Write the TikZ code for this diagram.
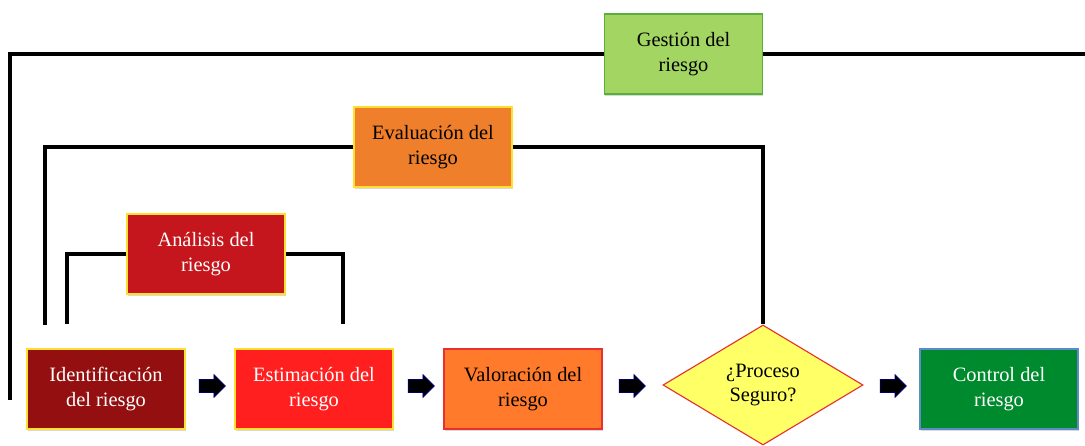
\documentclass[tikz,border=0pt]{standalone}
\usepackage{fontspec}
\setmainfont{Liberation Serif}
\usepackage{tikz}
\usetikzlibrary{positioning, shapes.geometric, shapes.arrows, arrows.meta, shadows}
\usepackage{xcolor}

\definecolor{gestfill}{HTML}{A3D563}
\definecolor{gestdraw}{HTML}{5BAE3A}
\definecolor{evalfill}{HTML}{F07F2C}
\definecolor{anafill}{HTML}{C4161C}
\definecolor{identfill}{HTML}{941010}
\definecolor{estfill}{HTML}{FF1F1F}
\definecolor{valfill}{HTML}{FF7A2A}
\definecolor{diamfill}{HTML}{FFFF66}
\definecolor{ctrlfill}{HTML}{008A2E}
\definecolor{ctrldraw}{HTML}{5B8CC8}
\definecolor{yelline}{HTML}{FFE030}
\definecolor{redline}{HTML}{E83030}

\begin{document}
\begin{tikzpicture}[
    x=0.025cm, y=-0.025cm,
    box/.style={rectangle, draw=yelline, line width=0.8pt, minimum width=3.95cm, minimum height=2.0cm,
        align=center, inner sep=2pt, font=\fontsize{14.5}{17.5}\selectfont,
        drop shadow={shadow xshift=0.5pt, shadow yshift=-1.5pt, opacity=0.3}},
    decision/.style={diamond, draw=redline, fill=diamfill, line width=0.8pt, minimum width=5cm, minimum height=3cm,
        aspect=1.667, inner sep=0pt, align=center, font=\fontsize{14.5}{17.5}\selectfont},
    flecha/.style={single arrow, fill=black, draw=blue!45!black, line width=0.6pt, minimum height=0.65cm,
        inner sep=0.15cm, single arrow head extend=0.12cm},
    bracket/.style={line width=2.6pt, black}
]
    \useasboundingbox (0,0) rectangle (1085,446);

    % Bottom row
    \node[box, fill=identfill, text=white] (ident) at (106,389) {Identificación\\del riesgo};
    \node[box, fill=estfill, text=white] (estim) at (314,389) {Estimación del\\riesgo};
    \node[box, fill=valfill, draw=redline] (valor) at (523,389) {Valoración del\\riesgo};
    \node[decision] (seguro) at (763,385) {¿Proceso\\Seguro?};
    \node[box, fill=ctrlfill, draw=ctrldraw, text=white] (control) at (999,389) {Control del\\riesgo};

    % Block arrows between steps
    \node[flecha] (f1) at (209,386) {};
    \node[flecha] (f2) at (418,386) {};
    \node[flecha] (f3) at (629,386) {};
    \node[flecha] (f4) at (890,386) {};

    % Group labels
    \node[box, fill=gestfill, draw=gestdraw] (gest) at (683.5,54) {Gestión del\\riesgo};
    \node[box, fill=evalfill] (eval) at (433,147) {Evaluación del\\riesgo};
    \node[box, fill=anafill, text=white] (anal) at (206,254) {Análisis del\\riesgo};

    % Bracket ends
    \coordinate (gestL) at (10,400);
    \coordinate (gestR) at (1085,54);
    \coordinate (evalL) at (45,325);
    \coordinate (anaL) at (67,324);
    \coordinate (anaR) at (343,324);

    % Brackets
    \draw[bracket] (gest.west) -| (gestL);
    \draw[bracket] (gest.east) -- (gestR);
    \draw[bracket] (eval.west) -| (evalL);
    \draw[bracket] (eval.east) -| (seguro.north);
    \draw[bracket] (anal.west) -| (anaL);
    \draw[bracket] (anal.east) -| (anaR);
\end{tikzpicture}
\end{document}
